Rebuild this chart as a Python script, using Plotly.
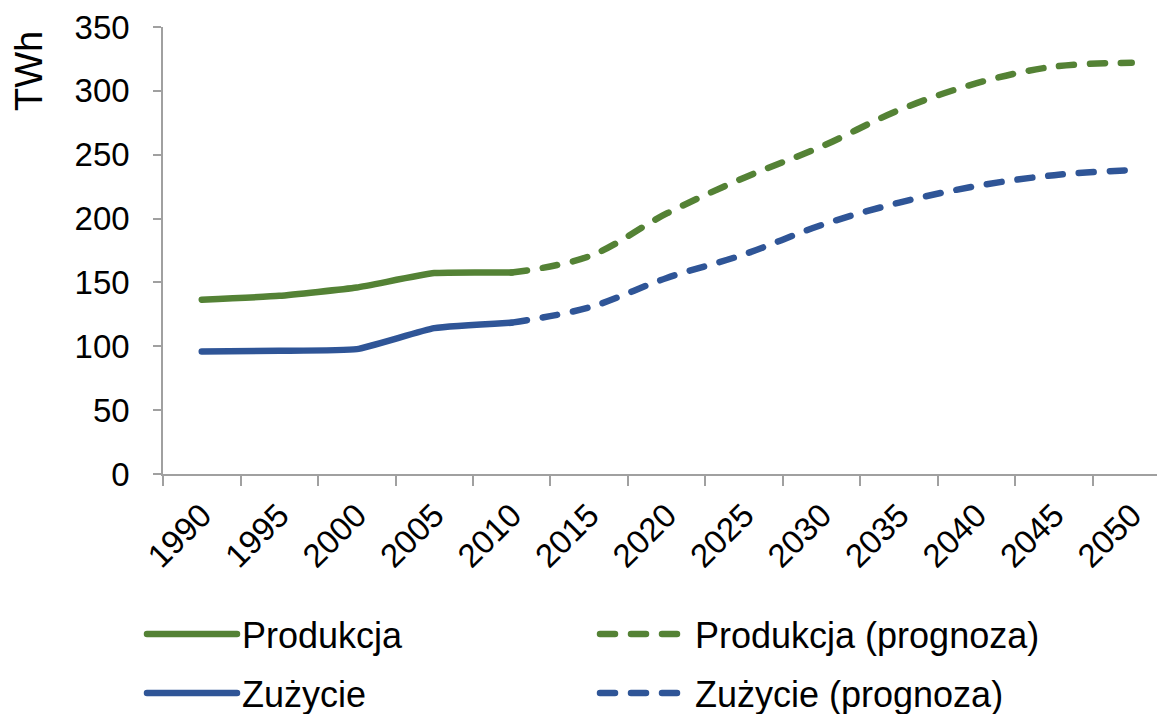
import plotly.graph_objects as go

years = ["1990", "1995", "2000", "2005", "2010", "2015", "2020",
         "2025", "2030", "2035", "2040", "2045", "2050"]

hist_years = years[:5]
fc_years = years[4:]

produkcja = [136.5, 139.5, 146.0, 157.3, 157.7]
produkcja_prognoza = [157.7, 170.5, 204.0, 232.0, 256.5, 285.0, 306.0, 319.0, 322.0]
zuzycie = [96.0, 96.5, 97.8, 114.2, 118.5]
zuzycie_prognoza = [118.5, 130.5, 153.5, 172.0, 195.0, 212.5, 225.5, 234.0, 238.0]

y_ticks = [0, 50, 100, 150, 200, 250, 300, 350]

GREEN = "#548235"
BLUE = "#2F5597"
FONT = "Liberation Sans, Arial, sans-serif"
LW = 6.5
DASH = "15px,16px"
W, H = 1157, 714

fig = go.Figure()
fig.add_trace(go.Scatter(x=hist_years, y=produkcja, mode="lines", name="Produkcja",
                         line=dict(color=GREEN, width=LW, shape="spline", smoothing=0.4),
                         legend="legend"))
fig.add_trace(go.Scatter(x=fc_years, y=produkcja_prognoza, mode="lines", name="Produkcja (prognoza)",
                         line=dict(color=GREEN, width=LW, dash=DASH, shape="spline", smoothing=1.0),
                         legend="legend"))
fig.add_trace(go.Scatter(x=hist_years, y=zuzycie, mode="lines", name="Zużycie",
                         line=dict(color=BLUE, width=LW, shape="spline", smoothing=0.4),
                         legend="legend2"))
fig.add_trace(go.Scatter(x=fc_years, y=zuzycie_prognoza, mode="lines", name="Zużycie (prognoza)",
                         line=dict(color=BLUE, width=LW, dash=DASH, shape="spline", smoothing=1.0),
                         legend="legend2"))

legend_common = dict(
    orientation="h", xref="container", x=142 / W, xanchor="left",
    yref="container", yanchor="middle",
    font=dict(family=FONT, size=36, color="black"),
    itemwidth=90, entrywidth=348, entrywidthmode="pixels",
    bgcolor="rgba(0,0,0,0)", borderwidth=0,
    traceorder="normal",
)

fig.update_layout(
    width=W, height=H,
    margin=dict(l=163, r=0, t=27, b=240),
    paper_bgcolor="white", plot_bgcolor="white",
    font=dict(family=FONT, size=33, color="black"),
    showlegend=True,
    legend=dict(**legend_common, y=1 - 634 / H),
    legend2=dict(**legend_common, y=1 - 693 / H),
    xaxis=dict(
        type="category", categoryorder="array", categoryarray=years,
        range=[-0.5, 12.326],
        tickson="boundaries", ticks="outside", ticklen=10, tickwidth=1.5, tickcolor="#a0a0a0",
        showline=True, linecolor="#a0a0a0", linewidth=1.5,
        showgrid=False, zeroline=False, automargin=False,
        tickangle=-45, tickfont=dict(family=FONT, size=33, color="black"),
        ticklabelstandoff=7,
    ),
    yaxis=dict(
        range=[0, 350], tickvals=y_ticks,
        ticks="outside", ticklen=8, tickwidth=1.5, tickcolor="#a0a0a0",
        showline=True, linecolor="#a0a0a0", linewidth=1.5,
        showgrid=False, zeroline=False, automargin=False,
        tickfont=dict(family=FONT, size=33, color="black"),
        ticklabelstandoff=17,
    ),
    annotations=[dict(
        text="TWh", textangle=-90, showarrow=False,
        xref="paper", yref="paper", x=0, y=1, xanchor="center", yanchor="middle",
        xshift=29 - 163, yshift=-(71 - 27),
        font=dict(family=FONT, size=38, color="black"),
    )],
)

post = (
    "document.body.style.margin='0';"
    "var st=document.createElement('style');"
    "st.textContent='.scatterlayer .js-line, .legendlines path{stroke-linecap:round;stroke-linejoin:round;}';"
    "document.head.appendChild(st);"
)

fig.write_html("out.html", post_script=post, config={"displayModeBar": False})
